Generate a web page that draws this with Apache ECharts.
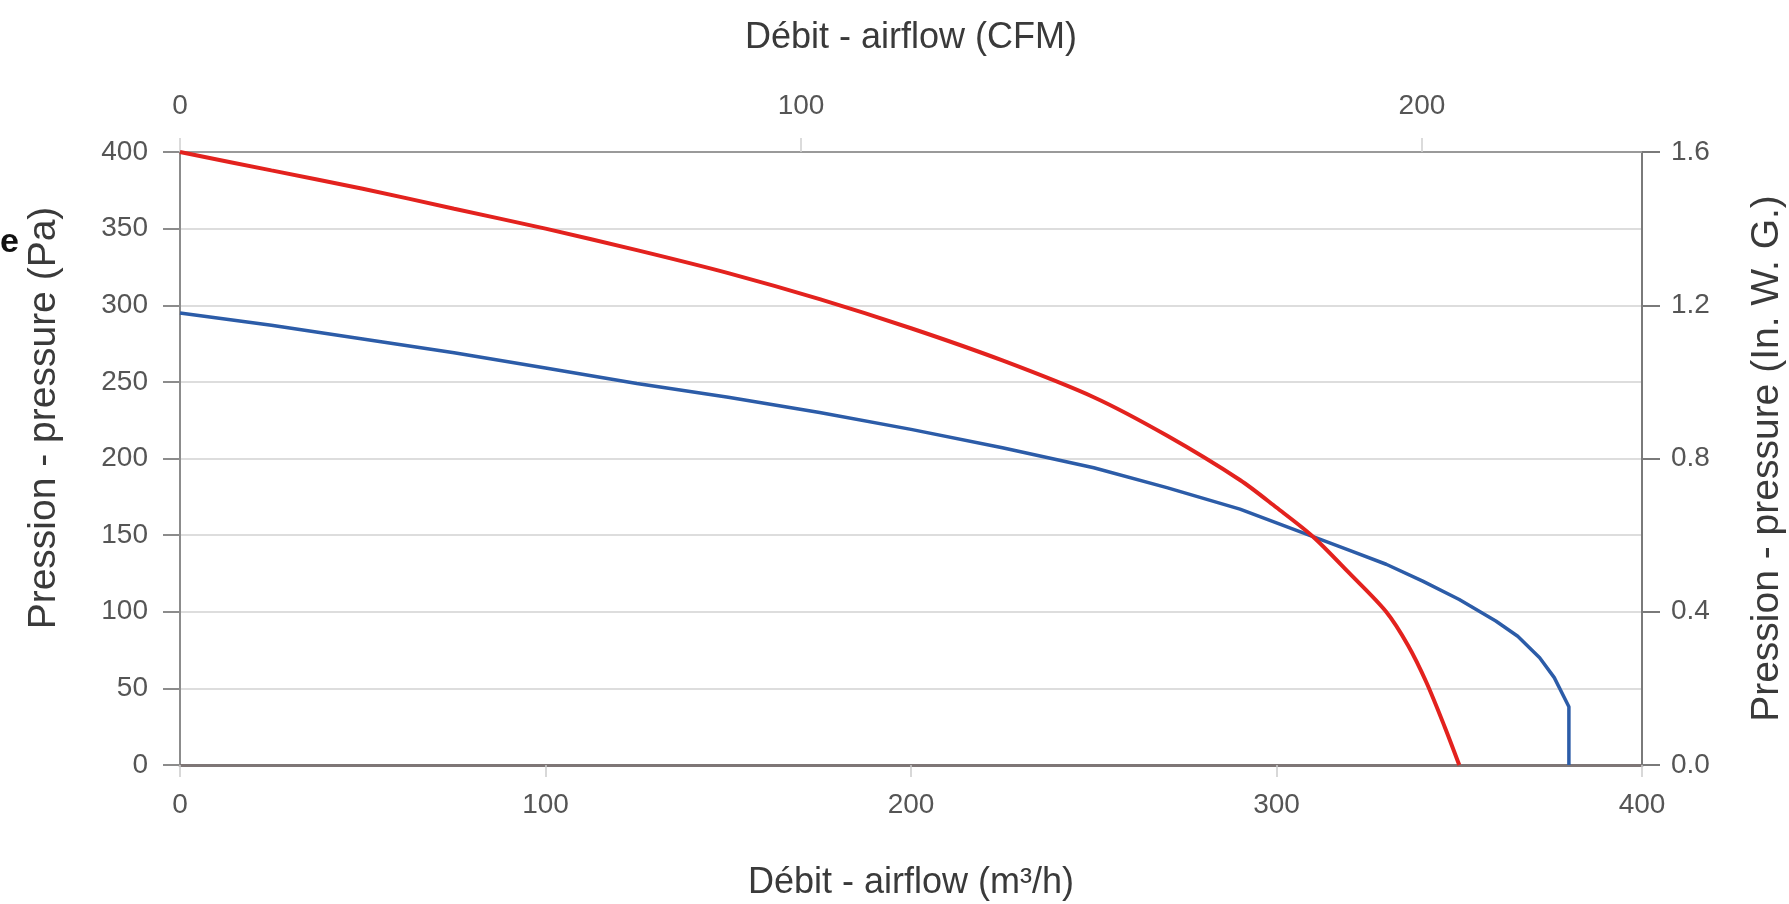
<!DOCTYPE html>
<html>
<head>
<meta charset="utf-8">
<script src="https://cdn.jsdelivr.net/npm/echarts@6/dist/echarts.min.js"></script>
<style>
html,body{margin:0;padding:0;background:#fff;}
#chart{width:1789px;height:904px;}
</style>
</head>
<body>
<div id="chart"></div>
<script>
// ---- data ----
const redFlow      = [0, 25, 50, 75, 100, 125, 150, 175, 200, 225, 250, 270, 290, 300, 310, 320, 330, 336, 341, 346, 350];
const redPressure  = [400, 388, 376, 363, 350, 336, 321, 304, 285, 264, 240, 215, 186, 168, 149, 125, 100, 78, 54, 25, 0];
const blueFlow     = [0, 25, 50, 75, 100, 125, 150, 175, 200, 225, 250, 270, 290, 300, 310, 320, 330, 340, 350, 360, 366, 372, 376, 380, 380];
const bluePressure = [295, 287, 278, 269, 259, 249, 240, 230, 219, 207, 194, 181, 167, 158, 149, 140, 131, 120, 108, 94, 84, 70, 57, 38, 0];

const flowTicks     = [0, 100, 200, 300, 400];     // m³/h (bottom)
const cfmTicks      = [0, 100, 200];               // CFM (top)
const paTicks       = [0, 50, 100, 150, 200, 250, 300, 350, 400];
const inwgTicks     = ['0.0', '0.4', '0.8', '1.2', '1.6'];
const M3H_PER_CFM   = 1.699;

const titleTop    = 'Débit - airflow (CFM)';
const titleBottom = 'Débit - airflow (m³/h)';
const titleLeft   = 'Pression - pressure (Pa)';
const titleRight  = 'Pression - pressure (In. W. G.)';

// ---- chart ----
const sans = "'Liberation Sans',Arial,sans-serif";
const tickLabel = {fontFamily: sans, fontSize: 28, color: '#555'};

const pairs = (xs, ys) => xs.map((x, i) => [x, ys[i]]);

const chart = echarts.init(document.getElementById('chart'), null, {renderer: 'canvas'});
chart.setOption({
  animation: false,
  backgroundColor: '#ffffff',
  grid: {left: 180, right: 147, top: 152, bottom: 139, containLabel: false, outerBoundsMode: 'none'},
  xAxis: [
    {
      type: 'value', position: 'bottom',
      min: flowTicks[0], max: flowTicks[flowTicks.length - 1], interval: 100,
      name: titleBottom, nameLocation: 'middle', nameGap: 100,
      nameTextStyle: {fontFamily: sans, fontSize: 36, color: '#3a3a3a'},
      axisLine: {show: true, onZero: false, lineStyle: {color: '#7e7676', width: 3}},
      axisTick: {show: true, length: 12, lineStyle: {color: '#cccccc', width: 1.5}},
      axisLabel: Object.assign({margin: 26}, tickLabel),
      splitLine: {show: false}
    },
    {
      type: 'value', position: 'top',
      min: 0, max: flowTicks[flowTicks.length - 1] / M3H_PER_CFM, interval: 100,
      name: titleTop, nameLocation: 'middle', nameGap: 96,
      nameTextStyle: {fontFamily: sans, fontSize: 36, color: '#3a3a3a'},
      axisLine: {show: true, onZero: false, lineStyle: {color: '#9a9a9a', width: 2}},
      axisTick: {show: true, length: 14, lineStyle: {color: '#d0d0d0', width: 1.5}},
      axisLabel: Object.assign({
        margin: 32, showMaxLabel: false,
        formatter: (v) => cfmTicks.indexOf(Math.round(v)) >= 0 && Math.abs(v - Math.round(v)) < 1e-6 ? String(Math.round(v)) : ''
      }, tickLabel),
      splitLine: {show: false}
    }
  ],
  yAxis: [
    {
      type: 'value', position: 'left',
      min: paTicks[0], max: paTicks[paTicks.length - 1], interval: 50,
      axisLine: {show: true, onZero: false, lineStyle: {color: '#8c8c8c', width: 2}},
      axisTick: {show: true, length: 17, lineStyle: {color: '#8c8c8c', width: 2}},
      axisLabel: Object.assign({margin: 32}, tickLabel),
      splitLine: {show: true, lineStyle: {color: '#d2d2d2', width: 1.5}}
    },
    {
      type: 'value', position: 'right',
      min: 0, max: 1.6, interval: 0.4,
      name: titleRight, nameLocation: 'middle', nameGap: 106,
      nameTextStyle: {fontFamily: sans, fontSize: 39, color: '#3a3a3a'},
      axisLine: {show: true, onZero: false, lineStyle: {color: '#7a7a7a', width: 2}},
      axisTick: {show: true, length: 18, lineStyle: {color: '#7a7a7a', width: 2}},
      axisLabel: Object.assign({margin: 29, formatter: (v) => inwgTicks[Math.round(v / 0.4)]}, tickLabel),
      splitLine: {show: false}
    }
  ],
  graphic: [
    {
      type: 'text', x: 44, y: 418, rotation: Math.PI / 2,
      style: {text: titleLeft, fontFamily: sans, fontSize: 39, fill: '#3a3a3a', align: 'center', verticalAlign: 'middle'}
    },
    {
      type: 'text', left: 0, top: 226,
      style: {text: 'e', fontFamily: sans, fontSize: 34, fontWeight: 'bold', fill: '#111'}
    }
  ],
  series: [
    {
      type: 'line', xAxisIndex: 0, yAxisIndex: 0, symbol: 'none', smooth: false,
      data: pairs(blueFlow, bluePressure),
      lineStyle: {color: '#2c5ca8', width: 3.5}, z: 3
    },
    {
      type: 'line', xAxisIndex: 0, yAxisIndex: 0, symbol: 'none', smooth: 0.3,
      data: pairs(redFlow, redPressure),
      lineStyle: {color: '#e3221e', width: 4}, z: 4
    }
  ]
});
</script>
</body>
</html>
